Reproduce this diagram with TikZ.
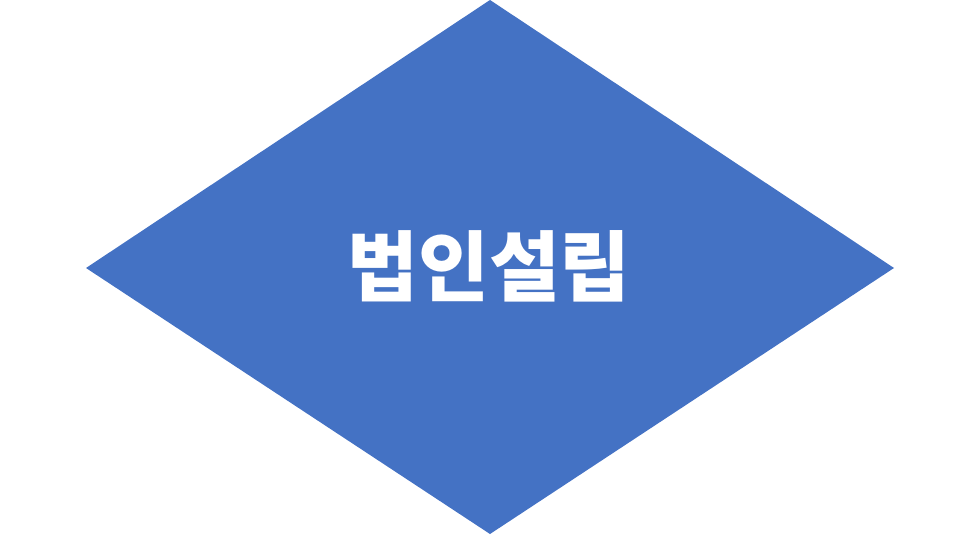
\documentclass[tikz,border=0pt]{standalone}
\usepackage{fontspec}
\newfontfamily\krfont{Noto Sans CJK KR}
\definecolor{dblue}{HTML}{4472C4}
\begin{document}
\begin{tikzpicture}[x=1pt,y=-1pt,
  labeltext/.style={text=white,font=\krfont\bfseries\fontsize{77}{86}\selectfont,inner sep=0pt}]
\useasboundingbox (0,0) rectangle (966,543);
\coordinate (T) at (490,0);
\coordinate (L) at (86,268);
\coordinate (B) at (490,534);
\coordinate (R) at (894,268);
\fill[dblue] (T) -- (R) -- (B) -- (L) -- cycle;
\node[labeltext] (lbl) at (489,266) {법인설립};
\end{tikzpicture}
\end{document}
